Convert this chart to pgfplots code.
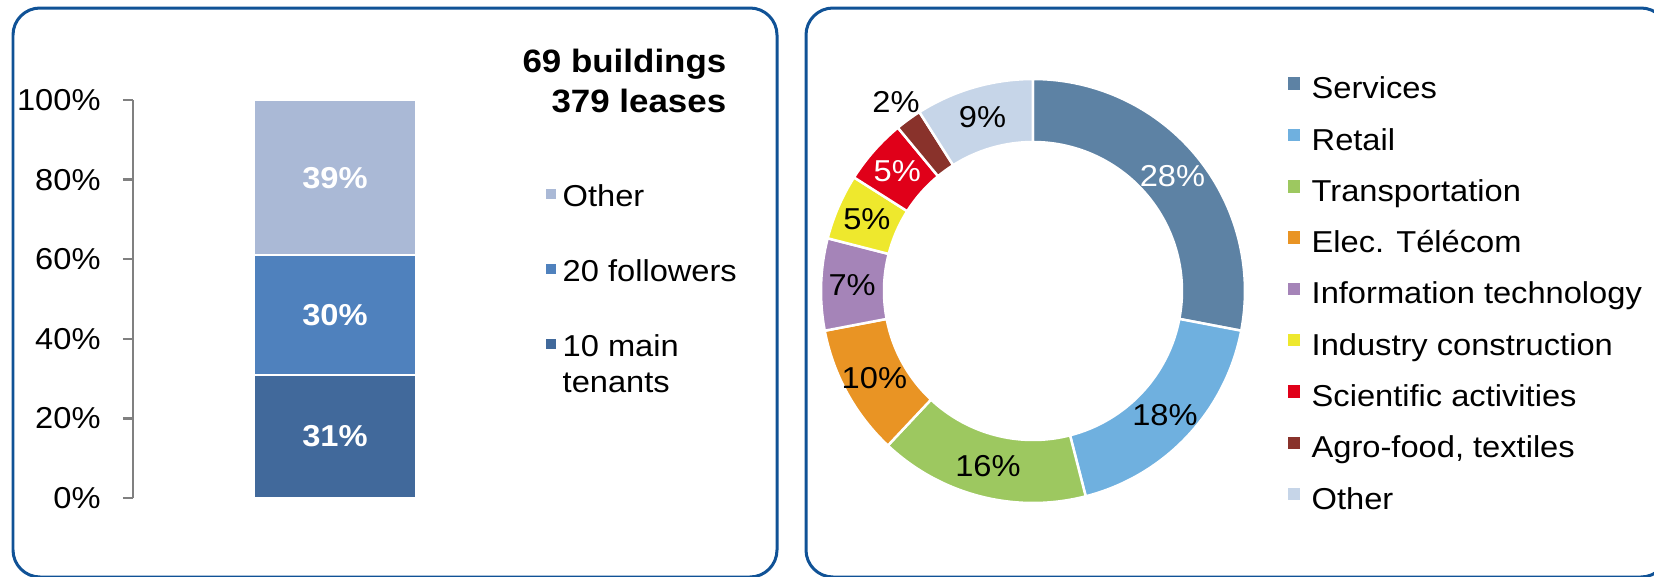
\documentclass[border=0pt]{standalone}
\usepackage{pgfplots}
\usepackage{pgfplotstable}
\pgfplotsset{compat=1.18}
\usepackage{fontspec}
\setmainfont[FakeStretch=1.08]{Liberation Sans}

\definecolor{panel}{RGB}{16,82,150}
\definecolor{axgrey}{RGB}{128,128,128}
\definecolor{tenmain}{RGB}{65,105,155}
\definecolor{followers}{RGB}{79,129,189}
\definecolor{otherL}{RGB}{170,185,214}
\definecolor{pie0}{RGB}{93,130,164}
\definecolor{pie1}{RGB}{111,176,223}
\definecolor{pie2}{RGB}{157,200,96}
\definecolor{pie3}{RGB}{233,148,36}
\definecolor{pie4}{RGB}{165,132,184}
\definecolor{pie5}{RGB}{238,232,45}
\definecolor{pie6}{RGB}{224,0,25}
\definecolor{pie7}{RGB}{137,50,43}
\definecolor{pie8}{RGB}{198,213,232}

\newcommand\lblfont{\fontsize{8.6}{10}\selectfont}
\newcommand\headfont{\fontsize{9.2}{11}\selectfont\bfseries}

\pgfplotsset{
  sqleft/.style={legend image code/.code={\fill[##1,draw=none] (0mm,-0.35mm) rectangle (1mm,0.65mm);}},
  sqright/.style={legend image code/.code={\fill[##1,draw=none] (0mm,-0.22mm) rectangle (1.25mm,1.03mm);}},
}

% sector shares (%), clockwise from 12 o'clock
\pgfplotstableread{
share
28
18
16
10
7
5
5
2
9
}\pietable

\begin{document}
\begin{tikzpicture}[x=0.1mm,y=0.1mm]
\useasboundingbox (0,0) rectangle (1654,576);
\draw[panel, line width=0.3mm, rounded corners=2.7mm] (13,-1) rectangle (777,568);
\draw[panel, line width=0.3mm, rounded corners=2.7mm] (806,-1) rectangle (1668,568);

% left: stacked bar
\begin{axis}[
    at={(13.3mm,7.8mm)}, anchor=south west,
    scale only axis, width=40.4mm, height=39.8mm,
    xmin=0, xmax=404, ymin=0, ymax=100,
    axis x line=none, axis y line*=left,
    ybar stacked, bar width=16.2mm,
    ytick={0,20,...,100},
    yticklabel={\pgfmathprintnumber{\tick}\%},
    /pgf/number format/assume math mode=true,
    tick label style={font=\lblfont},
    yticklabel style={xshift=-1mm},
    tick align=outside, major tick length=1mm,
    axis line style={draw=axgrey, line width=0.25mm},
    tick style={draw=axgrey, line width=0.25mm},
    reverse legend,
    legend cell align=left,
    legend style={at={(axis cs:412,80.9)}, anchor=north west,
                  draw=none, fill=none, inner sep=0pt,
                  row sep=3.7mm, column sep=0.7mm, font=\lblfont,
                  nodes={inner sep=0pt, text height=3mm, text depth=0.8mm, anchor=west}},
]
\addplot[fill=tenmain, draw=white, line width=0.2mm, sqleft] coordinates {(202,31)};
\addlegendentry{\vtop{\baselineskip=3.6mm\hbox{10 main}\hbox{tenants}}}
\addplot[fill=followers, draw=white, line width=0.2mm, sqleft] coordinates {(202,30)};
\addlegendentry{20 followers}
\addplot[fill=otherL, draw=white, line width=0.2mm, sqleft] coordinates {(202,39)};
\addlegendentry{Other}
\coordinate (b1) at (axis cs:202,15.5);
\coordinate (b2) at (axis cs:202,46);
\coordinate (b3) at (axis cs:202,80.5);
\end{axis}
\node[white, font=\bfseries\lblfont] at (b1) {31\%};
\node[white, font=\bfseries\lblfont] at (b2) {30\%};
\node[white, font=\bfseries\lblfont] at (b3) {39\%};

\node[anchor=base east, inner sep=0pt, font=\headfont] at (727,504) {69 buildings};
\node[anchor=base east, inner sep=0pt, font=\headfont] at (727,464) {379 leases};

% right: donut
\begin{axis}[
    at={(103.3mm,28.5mm)}, anchor=center,
    scale only axis, width=46mm, height=46mm,
    xmin=-230, xmax=230, ymin=-230, ymax=230,
    hide axis,
    legend cell align=left,
    legend style={at={(axis cs:254,223)}, anchor=north west,
                  draw=none, fill=none, inner sep=0pt,
                  row sep=1.33mm, column sep=1.15mm, font=\lblfont,
                  nodes={inner sep=0pt, text height=3mm, text depth=0.8mm, anchor=west}},
]
\def\cum{0}
\pgfplotsforeachungrouped \i in {0,...,8}{%
  \pgfplotstablegetelem{\i}{share}\of\pietable
  \let\val\pgfplotsretval
  \pgfmathsetmacro\aone{90-3.6*\cum}
  \pgfmathsetmacro\cum{\cum+\val}
  \pgfmathsetmacro\atwo{90-3.6*\cum}
  \pgfmathsetmacro\ain{\atwo+180}
  \pgfmathsetmacro\amid{(\aone+\atwo)/2}
  \ifnum\i=7 \def\lr{23.3mm}\else\def\lr{18.1mm}\fi
  \ifnum\i=0 \def\lc{white}\else\ifnum\i=6 \def\lc{white}\else\def\lc{black}\fi\fi
  \edef\temp{%
    \noexpand\fill[pie\i, draw=white, line width=0.25mm]
      (axis cs:0,0) ++(\aone:21.2mm)
      arc[start angle=\aone, end angle=\atwo, radius=21.2mm]
      -- ++(\ain:6.3mm)
      arc[start angle=\atwo, end angle=\aone, radius=14.9mm] -- cycle;
    \noexpand\node[text=\lc, font=\noexpand\lblfont]
      at ([shift={(\amid:\lr)}]axis cs:0,0) {\val\noexpand\%};
  }%
  \temp
}
\addlegendimage{fill=pie0, sqright}\addlegendentry{Services}
\addlegendimage{fill=pie1, sqright}\addlegendentry{Retail}
\addlegendimage{fill=pie2, sqright}\addlegendentry{Transportation}
\addlegendimage{fill=pie3, sqright}\addlegendentry{Elec. Télécom}
\addlegendimage{fill=pie4, sqright}\addlegendentry{Information technology}
\addlegendimage{fill=pie5, sqright}\addlegendentry{Industry construction}
\addlegendimage{fill=pie6, sqright}\addlegendentry{Scientific activities}
\addlegendimage{fill=pie7, sqright}\addlegendentry{Agro-food, textiles}
\addlegendimage{fill=pie8, sqright}\addlegendentry{Other}
\end{axis}
\end{tikzpicture}
\end{document}
